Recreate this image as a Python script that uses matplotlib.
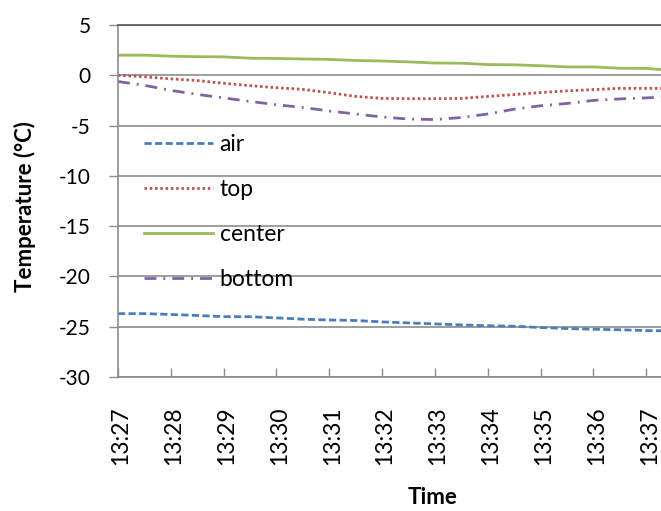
import matplotlib
matplotlib.use('Agg')
import matplotlib.pyplot as plt
import matplotlib.transforms as mtransforms

plt.rcParams['font.family'] = ['Lato', 'DejaVu Sans']
plt.rcParams['axes.unicode_minus'] = False

# minutes after 13:27
t_min = [0, 0.5, 1, 1.5, 2, 2.5, 3, 3.5, 4, 4.5, 5, 5.5, 6, 6.5, 7, 7.5,
         8, 8.5, 9, 9.5, 10, 10.28]

air = [-23.70, -23.70, -23.78, -23.88, -24.00, -24.00, -24.12, -24.25,
       -24.33, -24.38, -24.52, -24.62, -24.72, -24.82, -24.90, -24.95,
       -25.08, -25.18, -25.25, -25.30, -25.38, -25.40]
top = [0.00, -0.15, -0.36, -0.52, -0.80, -1.03, -1.24, -1.40, -1.73, -2.10,
       -2.30, -2.33, -2.33, -2.30, -2.10, -1.92, -1.72, -1.55, -1.42, -1.30,
       -1.30, -1.30]
center = [2.00, 2.00, 1.90, 1.85, 1.83, 1.70, 1.67, 1.62, 1.58, 1.47, 1.42,
          1.33, 1.22, 1.20, 1.07, 1.04, 0.95, 0.83, 0.83, 0.70, 0.68, 0.57]
bottom = [-0.62, -1.00, -1.50, -1.90, -2.25, -2.60, -2.93, -3.20, -3.55,
          -3.85, -4.15, -4.35, -4.40, -4.20, -3.85, -3.37, -3.03, -2.80,
          -2.50, -2.35, -2.25, -2.17]

tick_pos = [0, 1, 2, 3, 4, 5, 6, 7, 8, 9, 10]
tick_labels = ['13:27', '13:28', '13:29', '13:30', '13:31', '13:32',
               '13:33', '13:34', '13:35', '13:36', '13:37']

fig = plt.figure(figsize=(6.61, 5.11), dpi=100)
ax = fig.add_axes([0.1785, 0.2622, 0.8215, 0.6889])

lw = 2.0
ax.plot(t_min, air, color='#4a7ebb', lw=lw, linestyle=(0, (2.6, 1.2)), label='air')
ax.plot(t_min, top, color='#c0504d', lw=lw, linestyle=(0, (0.9, 1.0)), label='top')
ax.plot(t_min, center, color='#9bbb59', lw=lw, label='center')
ax.plot(t_min, bottom, color='#8064a2', lw=lw,
        linestyle=(0, (4.3, 2.5, 0.7, 2.5)), label='bottom')

ax.set_xlim(0, 10.28)
ax.set_ylim(-30, 5)
ax.set_yticks(range(-30, 6, 5))
ax.yaxis.grid(True, color='#8c8c8c', lw=1.2)
ax.set_axisbelow(True)

ax.set_xticks(tick_pos)
ax.set_xticklabels(tick_labels, rotation=90, fontsize=16.5)
ax.tick_params(axis='x', direction='in', length=6.5, width=1, color='#8c8c8c', pad=21)
ax.tick_params(axis='y', direction='out', length=6.5, width=1, color='#8c8c8c',
               pad=13, labelsize=15)

# nudge the rotated time labels a little to the right
shift = mtransforms.ScaledTranslation(3 / 100, 0, fig.dpi_scale_trans)
for lbl in ax.get_xticklabels():
    lbl.set_transform(lbl.get_transform() + shift)

for side in ['left', 'bottom']:
    ax.spines[side].set_color('#8c8c8c')
    ax.spines[side].set_linewidth(1.2)
ax.spines['top'].set_color('#555555')
ax.spines['top'].set_linewidth(1.2)
ax.spines['right'].set_visible(False)

ax.set_ylabel('Temperature (°C)', fontsize=16, fontweight='bold')
ax.yaxis.set_label_coords(-0.151, 0.483)
ax.set_xlabel('Time', fontsize=16, fontweight='bold')
ax.xaxis.set_label_coords(0.58, -0.3125)

ax.legend(loc='upper left', bbox_to_anchor=(0.048, 0.69), frameon=False,
          fontsize=16.5, handlelength=3.0, handletextpad=0.3,
          labelspacing=1.04, borderpad=0, borderaxespad=0)

fig.savefig('out.png', dpi=100)
